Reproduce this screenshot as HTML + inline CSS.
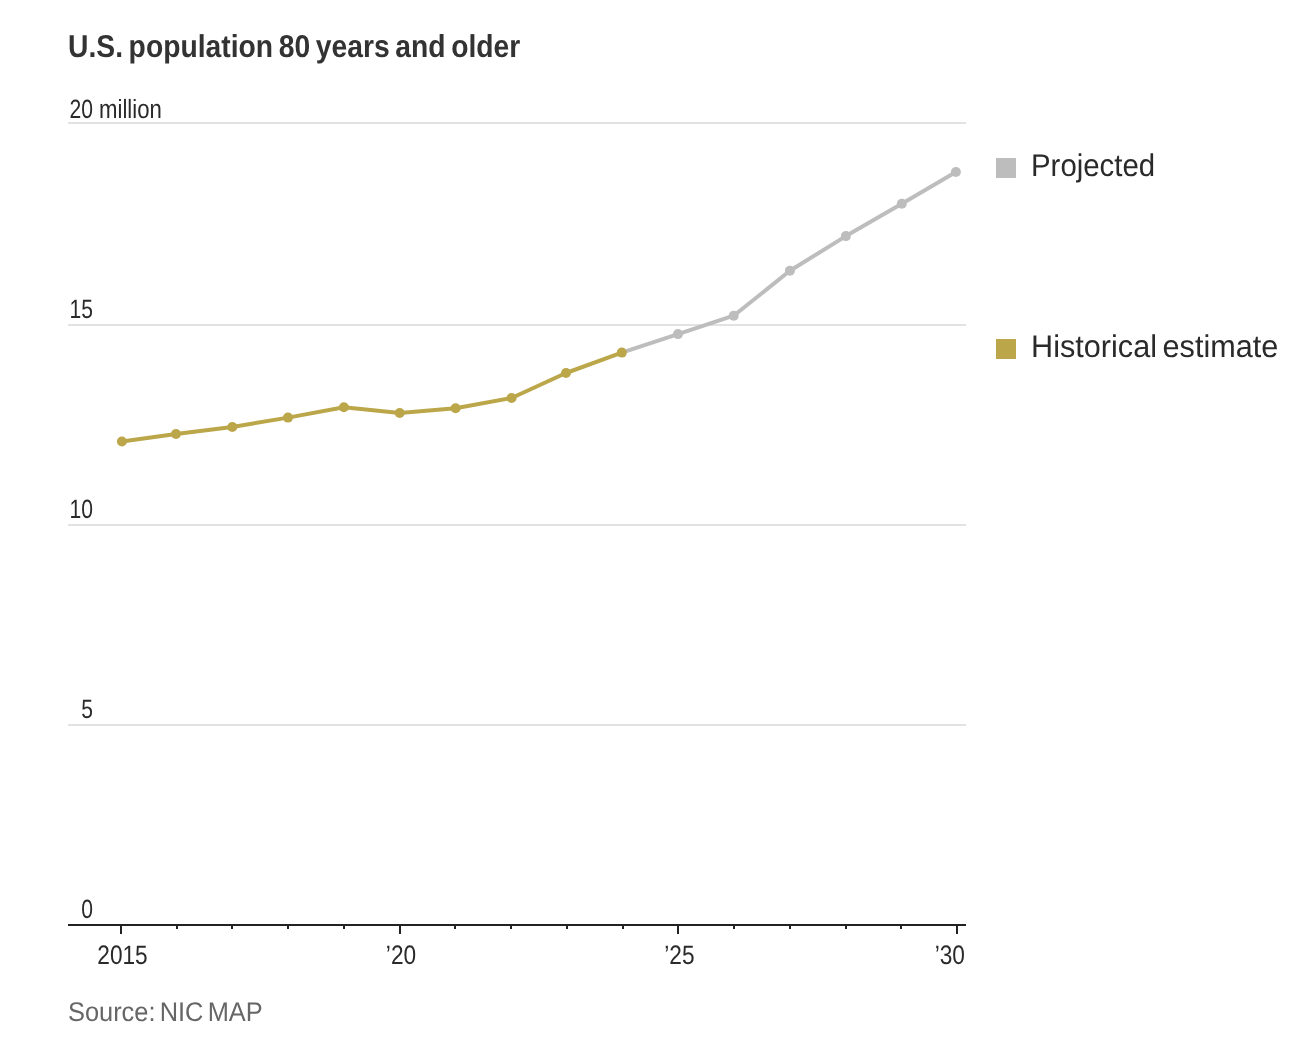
<!DOCTYPE html>
<html><head><meta charset="utf-8"><style>
html,body{margin:0;padding:0;background:#fff;width:1310px;height:1054px;overflow:hidden}
svg{display:block;font-family:"Liberation Sans",sans-serif;text-rendering:geometricPrecision;will-change:transform}
</style></head><body>
<svg width="1310" height="1054" viewBox="0 0 1310 1054">
<rect x="68" y="122" width="898" height="2" fill="#e2e2e2"/>
<rect x="68" y="324" width="898" height="2" fill="#e2e2e2"/>
<rect x="68" y="524" width="898" height="2" fill="#e2e2e2"/>
<rect x="68" y="724" width="898" height="2" fill="#e2e2e2"/>
<path d="M621.8,352.6 L678.0,334.1 L733.7,315.7 L789.9,270.8 L845.9,236.1 L901.8,203.7 L955.9,172.0" fill="none" stroke="#bdbdbd" stroke-width="4" stroke-linejoin="round"/>
<circle cx="678.0" cy="334.1" r="5" fill="#bdbdbd"/>
<circle cx="733.7" cy="315.7" r="5" fill="#bdbdbd"/>
<circle cx="789.9" cy="270.8" r="5" fill="#bdbdbd"/>
<circle cx="845.9" cy="236.1" r="5" fill="#bdbdbd"/>
<circle cx="901.8" cy="203.7" r="5" fill="#bdbdbd"/>
<circle cx="955.9" cy="172.0" r="5" fill="#bdbdbd"/>
<path d="M121.9,441.5 L176.0,434.0 L232.3,427.0 L288.0,417.6 L343.9,407.3 L399.7,413.0 L455.6,408.2 L511.6,398.0 L566.0,373.0 L621.8,352.6" fill="none" stroke="#bba74a" stroke-width="4" stroke-linejoin="round"/>
<circle cx="121.9" cy="441.5" r="5" fill="#bba74a"/>
<circle cx="176.0" cy="434.0" r="5" fill="#bba74a"/>
<circle cx="232.3" cy="427.0" r="5" fill="#bba74a"/>
<circle cx="288.0" cy="417.6" r="5" fill="#bba74a"/>
<circle cx="343.9" cy="407.3" r="5" fill="#bba74a"/>
<circle cx="399.7" cy="413.0" r="5" fill="#bba74a"/>
<circle cx="455.6" cy="408.2" r="5" fill="#bba74a"/>
<circle cx="511.6" cy="398.0" r="5" fill="#bba74a"/>
<circle cx="566.0" cy="373.0" r="5" fill="#bba74a"/>
<circle cx="621.8" cy="352.6" r="5" fill="#bba74a"/>
<rect x="68" y="924" width="898" height="2" fill="#222"/>
<rect x="120" y="924" width="2" height="10" fill="#222"/>
<rect x="176" y="924" width="2" height="5" fill="#222"/>
<rect x="231" y="924" width="2" height="5" fill="#222"/>
<rect x="287" y="924" width="2" height="5" fill="#222"/>
<rect x="343" y="924" width="2" height="5" fill="#222"/>
<rect x="399" y="924" width="2" height="10" fill="#222"/>
<rect x="454" y="924" width="2" height="5" fill="#222"/>
<rect x="510" y="924" width="2" height="5" fill="#222"/>
<rect x="566" y="924" width="2" height="5" fill="#222"/>
<rect x="622" y="924" width="2" height="5" fill="#222"/>
<rect x="677" y="924" width="2" height="10" fill="#222"/>
<rect x="733" y="924" width="2" height="5" fill="#222"/>
<rect x="789" y="924" width="2" height="5" fill="#222"/>
<rect x="845" y="924" width="2" height="5" fill="#222"/>
<rect x="900" y="924" width="2" height="5" fill="#222"/>
<rect x="956" y="924" width="2" height="10" fill="#222"/>
<rect x="996" y="158" width="20" height="20" fill="#bdbdbd"/>
<rect x="996" y="339" width="20" height="20" fill="#bba74a"/>
<text transform="translate(68,57) scale(0.895,1)" font-size="31.6" font-weight="bold" fill="#333" text-anchor="start" word-spacing="-2.5">U.S. population 80 years and older</text>
<text transform="translate(93,118) scale(0.8,1)" font-size="26.4" font-weight="normal" fill="#2a2a2a" text-anchor="end">20</text>
<text transform="translate(99,118) scale(0.84,1)" font-size="26.4" font-weight="normal" fill="#2a2a2a" text-anchor="start">million</text>
<text transform="translate(93,318) scale(0.8,1)" font-size="26.4" font-weight="normal" fill="#2a2a2a" text-anchor="end">15</text>
<text transform="translate(93,518) scale(0.8,1)" font-size="26.4" font-weight="normal" fill="#2a2a2a" text-anchor="end">10</text>
<text transform="translate(93,718) scale(0.8,1)" font-size="26.4" font-weight="normal" fill="#2a2a2a" text-anchor="end">5</text>
<text transform="translate(93,918) scale(0.8,1)" font-size="26.4" font-weight="normal" fill="#2a2a2a" text-anchor="end">0</text>
<text transform="translate(122.5,964) scale(0.85,1)" font-size="26.7" font-weight="normal" fill="#2a2a2a" text-anchor="middle">2015</text>
<text transform="translate(401,964) scale(0.85,1)" font-size="26.7" font-weight="normal" fill="#2a2a2a" text-anchor="middle">’20</text>
<text transform="translate(679.4,964) scale(0.85,1)" font-size="26.7" font-weight="normal" fill="#2a2a2a" text-anchor="middle">’25</text>
<text transform="translate(965,964) scale(0.85,1)" font-size="26.7" font-weight="normal" fill="#2a2a2a" text-anchor="end">’30</text>
<text transform="translate(1031,176) scale(0.936,1)" font-size="31.4" font-weight="normal" fill="#2a2a2a" text-anchor="start">Projected</text>
<text transform="translate(1031,357) scale(0.976,1)" font-size="31.4" font-weight="normal" fill="#2a2a2a" text-anchor="start" word-spacing="-3">Historical estimate</text>
<text transform="translate(68,1021) scale(0.94,1)" font-size="27" font-weight="normal" fill="#666" text-anchor="start" word-spacing="-3">Source: NIC MAP</text>
</svg>
</body></html>
